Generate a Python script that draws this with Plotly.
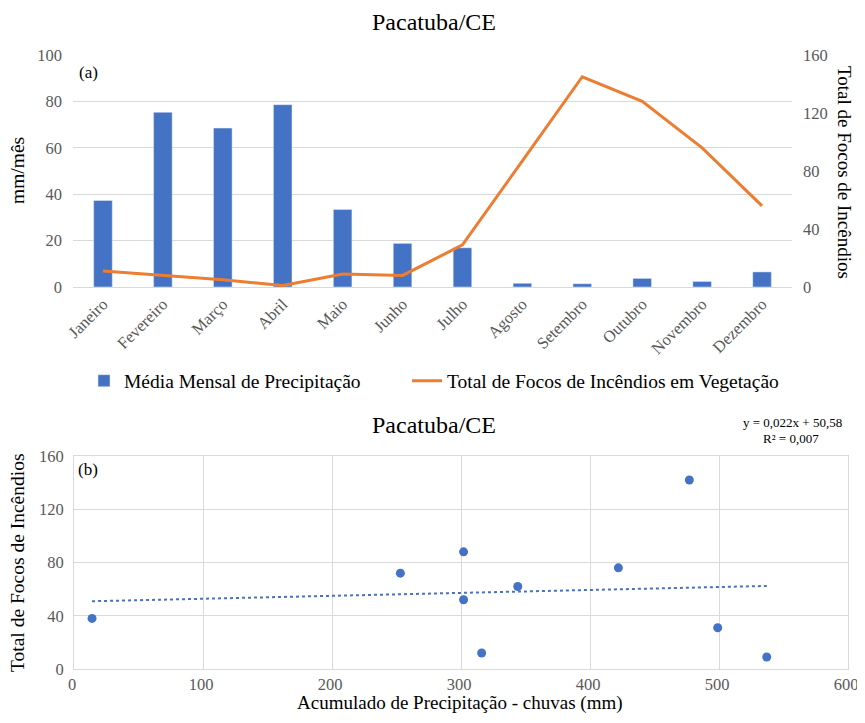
import plotly.graph_objects as go

# ---------------- data ----------------
meses = ["Janeiro", "Fevereiro", "Março", "Abril", "Maio", "Junho", "Julho",
         "Agosto", "Setembro", "Outubro", "Novembro", "Dezembro"]
precipitacao = [37.3, 75.3, 68.5, 78.6, 33.4, 18.8, 16.9, 1.6, 1.4, 3.7, 2.4, 6.5]
focos = [11, 8, 5, 1, 9, 8, 29, 87, 145, 128, 96, 56]

acumulado = [14, 253, 302, 302, 316, 344, 422, 477, 499, 537]
focos_ano = [38, 72, 88, 52, 12, 62, 76, 142, 31, 9]
slope = 0.022
intercept = 50.58

# ---------------- styles ----------------
OFF = 8                       # page body margin
W, H = 865 - 2 * OFF, 723 - 2 * OFF
SERIF = "Liberation Serif"
BLUE = "#4472C4"
ORANGE = "#ED7D31"
GRID = "#D9D9D9"
TICK = "#595959"

def px_x(p):
    return (p - OFF) / W

def px_y(p):
    return 1 - (p - OFF) / H

fig = go.Figure()

fig.add_trace(go.Bar(
    x=meses, y=precipitacao, name="Média Mensal de Precipitação",
    marker=dict(color=BLUE), xaxis="x", yaxis="y", width=0.31,
    legend="legend",
))
fig.add_trace(go.Scatter(
    x=meses, y=focos, name="Total de Focos de Incêndios em Vegetação",
    mode="lines", line=dict(color=ORANGE, width=3), xaxis="x", yaxis="y2",
    legend="legend2",
))

fig.add_trace(go.Scatter(
    x=acumulado, y=focos_ano, mode="markers", showlegend=False,
    marker=dict(color=BLUE, size=9), xaxis="x2", yaxis="y3",
))
tx = [min(acumulado), max(acumulado)]
ty = [slope * v + intercept for v in tx]
fig.add_trace(go.Scatter(
    x=tx, y=ty, mode="lines", showlegend=False,
    line=dict(color=BLUE, width=2, dash="dot"), xaxis="x2", yaxis="y3",
))

tickfont = dict(family=SERIF, size=16.5, color=TICK)
legfont = dict(family=SERIF, size=19.5, color="black")

fig.update_layout(
    width=W, height=H, autosize=False,
    margin=dict(l=0, r=0, t=0, b=0, autoexpand=False),
    paper_bgcolor="white", plot_bgcolor="white",
    font=dict(family=SERIF, color="black"),
    bargap=0.69,
    xaxis=dict(domain=[px_x(73), px_x(792)], anchor="y", type="category",
               tickangle=-45, tickfont=tickfont, showgrid=False,
               showline=True, linecolor=GRID, linewidth=1, ticks="",
               range=[-0.5, 11.5], automargin=False),
    yaxis=dict(domain=[px_y(287), px_y(55)], anchor="x", range=[0, 100],
               dtick=20, tickfont=tickfont, gridcolor=GRID, gridwidth=1,
               zeroline=False, showline=False, ticks="", ticklabelstandoff=10,
               automargin=False),
    yaxis2=dict(overlaying="y", side="right", anchor="x", range=[0, 160],
                dtick=40, tickfont=tickfont, showgrid=False, zeroline=False,
                showline=False, ticks="", ticklabelstandoff=10, automargin=False),
    xaxis2=dict(domain=[px_x(74), px_x(848)], anchor="y3", range=[0, 600],
                dtick=100, tickfont=tickfont, gridcolor=GRID, zeroline=False,
                showline=True, mirror=True, linecolor=GRID, ticks="",
                automargin=False, ticklabeloverflow="allow", ticklabelshift=-2),
    yaxis3=dict(domain=[px_y(669), px_y(456)], anchor="x2", range=[0, 160],
                dtick=40, tickfont=tickfont, gridcolor=GRID, zeroline=False,
                showline=True, mirror=True, linecolor=GRID, ticks="",
                ticklabelstandoff=6, automargin=False),
    legend=dict(orientation="h", x=px_x(84), xanchor="left", y=px_y(381),
                yanchor="middle", font=legfont, bgcolor="rgba(0,0,0,0)",
                itemwidth=30),
    legend2=dict(orientation="h", x=px_x(407), xanchor="left", y=px_y(381),
                 yanchor="middle", font=legfont, bgcolor="rgba(0,0,0,0)",
                 itemwidth=30),
)

ann = [
    dict(text="Pacatuba/CE", x=px_x(434), y=px_y(22), size=24),
    dict(text="Pacatuba/CE", x=px_x(434), y=px_y(425), size=24),
    dict(text="(a)", x=px_x(88), y=px_y(72), size=17),
    dict(text="(b)", x=px_x(88), y=px_y(469), size=17),
    dict(text="mm/mês", x=px_x(18), y=px_y(171), size=19.5, angle=-90),
    dict(text="Total de Focos de Incêndios", x=px_x(845), y=px_y(172), size=19, angle=90),
    dict(text="Total de Focos de Incêndios", x=px_x(17), y=px_y(563), size=19.5, angle=-90),
    dict(text="Acumulado de Precipitação - chuvas (mm)", x=px_x(460), y=px_y(703), size=19),
    dict(text="y = 0,022x + 50,58", x=px_x(792), y=px_y(423), size=13),
    dict(text="R² = 0,007", x=px_x(791), y=px_y(438), size=13),
]
for a in ann:
    fig.add_annotation(
        text=a["text"], x=a["x"], y=a["y"], xref="paper", yref="paper",
        showarrow=False, xanchor="center", yanchor="middle",
        textangle=a.get("angle", 0),
        font=dict(family=SERIF, size=a["size"], color="black"),
    )

fig.write_html("out.html")
